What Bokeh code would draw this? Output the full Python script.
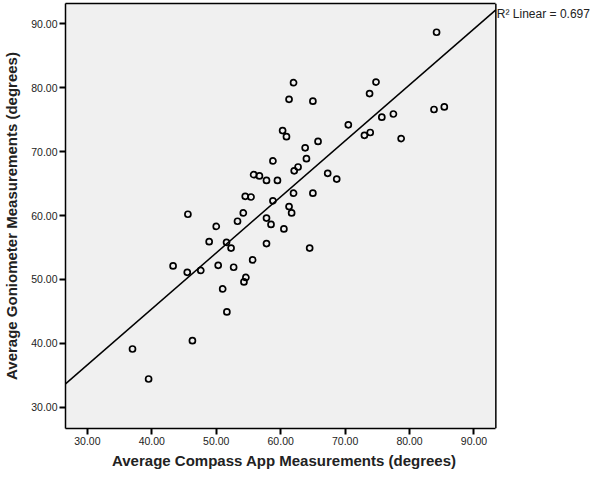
from bokeh.plotting import figure
from bokeh.models import (Range1d, NumeralTickFormatter, FixedTicker, Label,
                          BoxAnnotation, LinearAxis, Span, Title)
from bokeh.embed import file_html
from bokeh.resources import INLINE

# Data
compass = [45.6, 50.0, 53.3, 54.2, 54.5, 55.4, 48.9, 51.6, 52.3, 43.3,
           45.5, 47.6, 50.3, 52.7, 54.6, 54.3, 51.0, 51.65, 46.3, 37.0,
           39.5, 62.0, 61.3, 65.0, 60.3, 60.9, 70.5, 73.8, 74.8, 73.0,
           73.9, 65.8, 63.8, 64.0, 58.8, 62.7, 62.1, 55.8, 56.7, 57.8,
           59.5, 67.3, 68.7, 62.0, 65.0, 58.8, 61.3, 61.7, 57.8, 58.5,
           60.5, 57.8, 64.5, 55.65, 84.2, 83.8, 85.4, 77.5, 75.7, 78.7]
goniometer = [60.2, 58.3, 59.1, 60.4, 63.0, 62.9, 55.9, 55.8, 54.9, 52.1,
              51.1, 51.4, 52.2, 51.9, 50.3, 49.6, 48.5, 44.9, 40.4, 39.1,
              34.4, 80.8, 78.2, 77.9, 73.3, 72.35, 74.2, 79.1, 80.9, 72.55,
              73.0, 71.6, 70.6, 68.9, 68.55, 67.6, 67.0, 66.4, 66.2, 65.5,
              65.5, 66.6, 65.7, 63.5, 63.5, 62.3, 61.4, 60.4, 59.6, 58.6,
              57.9, 55.6, 54.9, 53.05, 88.7, 76.6, 77.0, 75.9, 75.4, 72.05]

x_ticks = [30, 40, 50, 60, 70, 80, 90]
y_ticks = [30, 40, 50, 60, 70, 80, 90]
fit_intercept = 10.3
fit_slope = 0.877
r2_text = "R\u00b2 Linear = 0.697"
x_title = "Average Compass App Measurements (degrees)"
y_title = "Average Goniometer Measurements (degrees)"

# axis extents of the plotting box
X_MIN, X_MAX = 26.6, 93.4
Y_MIN, Y_MAX = 26.65, 93.2

# layout (pixels)
W, H = 598, 472
LEFT = 58
BOX_W = 436               # width of grey box
FRAME_W = W - LEFT        # frame extends to the right edge (room for R² label)
X_EXT = X_MIN + (X_MAX - X_MIN) * FRAME_W / BOX_W
X_TITLE_W = 343           # approx. rendered width of the x-axis title

FONT = "Liberation Sans"
TXT = "#222222"
EDGE = 1.5

p = figure(width=W, height=H, output_backend="svg", toolbar_location=None,
           x_range=Range1d(X_MIN, X_EXT), y_range=Range1d(Y_MIN, Y_MAX),
           min_border_left=LEFT, min_border_right=0, min_border_top=3,
           min_border_bottom=44)

p.background_fill_color = "white"
p.border_fill_color = "white"
p.outline_line_color = None
p.grid.visible = False

# grey plotting box
p.add_layout(BoxAnnotation(left=X_MIN, right=X_MAX, bottom=Y_MIN, top=Y_MAX,
                           fill_color="#f0f0f0", fill_alpha=1.0,
                           line_color=None, level="underlay"))
p.add_layout(Span(location=X_MAX, dimension="height", line_color="black",
                  line_width=EDGE))

for ax, ticks in ((p.xaxis, x_ticks), (p.yaxis, y_ticks)):
    ax.ticker = FixedTicker(ticks=ticks)
    ax.formatter = NumeralTickFormatter(format="0.00")
    ax.major_tick_in = 0
    ax.major_tick_out = 6
    ax.major_tick_line_width = 2
    ax.major_tick_line_color = "black"
    ax.minor_tick_line_color = None
    ax.axis_line_color = "black"
    ax.axis_line_width = EDGE
    ax.major_label_text_font = FONT
    ax.major_label_text_font_size = "10.5px"
    ax.major_label_text_color = TXT
    ax.major_label_standoff = 2

p.xaxis.bounds = (X_MIN, X_MAX)

p.yaxis.axis_label = y_title
p.yaxis.axis_label_text_font = FONT
p.yaxis.axis_label_text_font_style = "bold"
p.yaxis.axis_label_text_font_size = "15px"
p.yaxis.axis_label_text_color = TXT
p.yaxis.axis_label_standoff = 8

# top edge of the box
top_axis = LinearAxis(ticker=FixedTicker(ticks=[]), bounds=(X_MIN, X_MAX),
                      axis_line_color="black", axis_line_width=EDGE,
                      major_tick_line_color=None, minor_tick_line_color=None)
p.add_layout(top_axis, "above")

# x-axis title, centred under the grey box
p.add_layout(Title(text=x_title, align="left",
                   offset=(BOX_W - X_TITLE_W) / 2,
                   text_font=FONT, text_font_style="bold",
                   text_font_size="15px", text_color=TXT, standoff=5), "below")

# regression line from fit coefficients
fx = [X_MIN, X_MAX]
fy = [fit_intercept + fit_slope * v for v in fx]
p.line(fx, fy, line_color="black", line_width=1.5)

p.scatter(compass, goniometer, marker="circle", size=6, fill_color=None,
          line_color="black", line_width=1.7)

p.add_layout(Label(x=X_MAX, y=fy[1], text=r2_text, text_font=FONT,
                   text_font_size="12px", text_baseline="top",
                   text_align="left", text_color=TXT, x_offset=1, y_offset=3))

open("out.html", "w").write(file_html(p, INLINE))
